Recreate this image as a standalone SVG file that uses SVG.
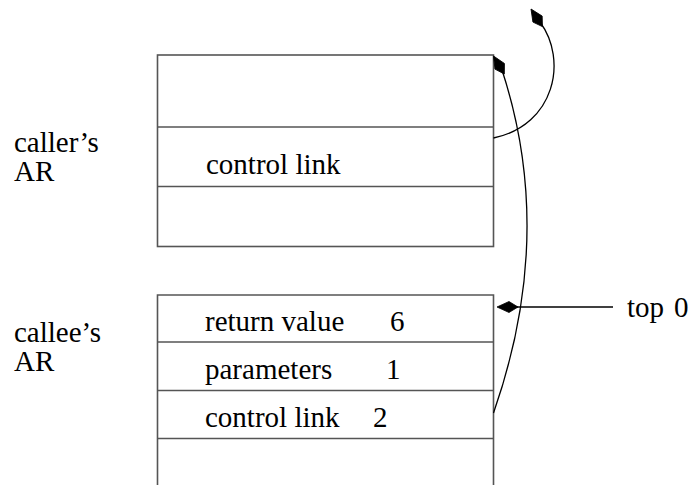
<svg xmlns="http://www.w3.org/2000/svg" width="698" height="485" viewBox="0 0 698 485">
  <style>
    .frame { fill: none; stroke: #555; stroke-width: 1.6; }
    .link { fill: none; stroke: #000; stroke-width: 1.3; }
    .head { fill: #000; stroke: #000; stroke-width: 0.8; stroke-linejoin: miter; }
    text { font-size: 29px; fill: #000; }
  </style>
  <defs>
    <!-- kite-shaped arrowhead, tip at the origin pointing along +x -->
    <path id="kite" d="M0,0 L-12,-5.5 L-21,0 L-12,5.5 Z"/>
  </defs>

  <g font-family="Liberation Serif, Tinos, Times New Roman, Times, DejaVu Serif, serif">
    <!-- caller's activation record -->
    <g id="caller-ar">
      <rect class="frame" x="157.5" y="55" width="336" height="191.5"/>
      <line class="frame" x1="157.5" y1="127" x2="493.5" y2="127"/>
      <line class="frame" x1="157.5" y1="186.5" x2="493.5" y2="186.5"/>
      <text x="206" y="174">control link</text>
    </g>
    <g id="caller-label">
      <text x="14" y="152">caller’s</text>
      <text x="14" y="181">AR</text>
    </g>

    <!-- callee's activation record (open at the bottom) -->
    <g id="callee-ar">
      <path class="frame" d="M157.5,485 V295 H493.5 V485"/>
      <line class="frame" x1="157.5" y1="342" x2="493.5" y2="342"/>
      <line class="frame" x1="157.5" y1="390.5" x2="493.5" y2="390.5"/>
      <line class="frame" x1="157.5" y1="438.5" x2="493.5" y2="438.5"/>
      <text x="205" y="331">return value</text>
      <text x="390" y="331">6</text>
      <text x="205" y="379">parameters</text>
      <text x="386" y="379">1</text>
      <text x="205" y="427">control link</text>
      <text x="373" y="427">2</text>
    </g>
    <g id="callee-label">
      <text x="14" y="342">callee’s</text>
      <text x="14" y="371">AR</text>
    </g>

    <g id="top-label">
      <text x="627" y="317">top</text>
      <text x="674" y="317">0</text>
    </g>
  </g>

  <!-- pointers -->
  <g id="connectors">
    <path class="link" d="M493.5,138 C555,125 568,60 540,22"/>
    <use href="#kite" class="head" transform="translate(531,9) rotate(-123)"/>
    <path class="link" d="M493.5,413 Q556,235 502,70"/>
    <use href="#kite" class="head" transform="translate(493.5,56) rotate(-121)"/>
    <path class="link" d="M613,307 H505"/>
    <use href="#kite" class="head" transform="translate(497,307) rotate(180)"/>
  </g>
</svg>
